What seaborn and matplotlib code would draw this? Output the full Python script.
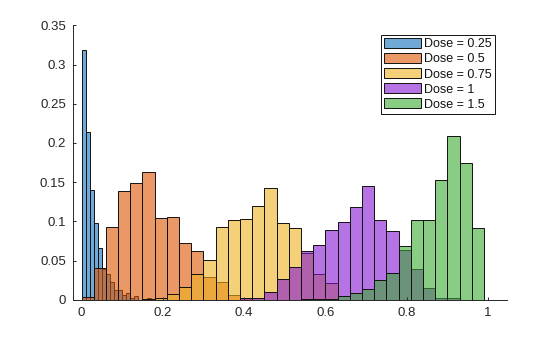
import numpy as np
import pandas as pd
import matplotlib
matplotlib.use("Agg")
import matplotlib.pyplot as plt
import seaborn as sns

# ---- data (probability per bin) ----
doses = ["Dose = 0.25", "Dose = 0.5", "Dose = 0.75", "Dose = 1", "Dose = 1.5"]

blue_start, blue_width = 0.0, 0.01
blue_vals = [0.319, 0.214, 0.140, 0.098, 0.066, 0.039, 0.0328, 0.023, 0.0128,
             0.0128, 0.006, 0.0085, 0.002, 0.005, 0.0, 0.0, 0.002]

orange_start, orange_width = 0.0, 0.03
orange_vals = [0.0034, 0.0405, 0.0925, 0.1385, 0.149, 0.163, 0.1044, 0.1057,
               0.0725, 0.0622, 0.0294, 0.0226, 0.0064, 0.002]

yellow_start, yellow_width = 0.15, 0.03
yellow_vals = [0.0015, 0.002, 0.0073, 0.0166, 0.033, 0.0507, 0.093, 0.102,
               0.103, 0.1198, 0.1428, 0.098, 0.0917, 0.060, 0.033, 0.0213]

purple_start, purple_width = 0.39, 0.03
purple_vals = [0.003, 0.003, 0.0106, 0.0264, 0.0418, 0.062, 0.070, 0.089,
               0.0993, 0.1185, 0.1453, 0.1019, 0.0878, 0.0635, 0.0392, 0.0149,
               0.002, 0.002]

green_start, green_width = 0.54, 0.03
green_vals = [0.001, 0.001, 0.001, 0.0047, 0.0085, 0.0136, 0.0251, 0.0341,
              0.0686, 0.1019, 0.1019, 0.153, 0.2084, 0.1748, 0.0916]

x_ticks = [0, 0.2, 0.4, 0.6, 0.8, 1]
x_tick_labels = ["0", "0.2", "0.4", "0.6", "0.8", "1"]
y_ticks = [0, 0.05, 0.1, 0.15, 0.2, 0.25, 0.3, 0.35]
y_tick_labels = ["0", "0.05", "0.1", "0.15", "0.2", "0.25", "0.3", "0.35"]

colors = ["#1171BE", "#DD5400", "#EDB120", "#8516D1", "#3BAA32"]

series = [
    (blue_start, blue_width, blue_vals),
    (orange_start, orange_width, orange_vals),
    (yellow_start, yellow_width, yellow_vals),
    (purple_start, purple_width, purple_vals),
    (green_start, green_width, green_vals),
]

plt.rcParams["font.family"] = ["Liberation Sans", "DejaVu Sans"]
plt.rcParams["font.size"] = 9.5
txt = "#262626"

fig = plt.figure(figsize=(5.6, 3.37), dpi=100)
ax = fig.add_axes([0.13, 0.11, 0.775, 0.815])

for label, color, (start, width, vals) in zip(doses, colors, series):
    n = len(vals)
    edges = [round(start + width * i, 6) for i in range(n + 1)]
    centers = [(edges[i] + edges[i + 1]) / 2 for i in range(n)]
    df = pd.DataFrame({"x": centers, "w": vals})
    sns.histplot(data=df, x="x", weights="w", bins=edges, stat="count",
                 color=color, alpha=0.6, edgecolor="#111111", linewidth=0.7,
                 label=label, ax=ax)

ax.set_xlim(-0.0214, 1.046)
ax.set_ylim(0, 0.35)
ax.set_xticks(x_ticks)
ax.set_xticklabels(x_tick_labels)
ax.set_yticks(y_ticks)
ax.set_yticklabels(y_tick_labels)
ax.set_xlabel("")
ax.set_ylabel("")
for s in ["top", "right"]:
    ax.spines[s].set_visible(False)
for s in ["left", "bottom"]:
    ax.spines[s].set_color(txt)
    ax.spines[s].set_linewidth(0.7)
ax.tick_params(direction="in", length=2.5, width=0.7, colors=txt,
               labelcolor=txt, labelsize=9.5, pad=5)

leg = ax.legend(loc="upper right", bbox_to_anchor=(495 / 560, 1 - 35 / 337),
                bbox_transform=fig.transFigure, borderaxespad=0,
                fancybox=False, framealpha=1, edgecolor="#111111",
                handlelength=2.9, handleheight=0.85, handletextpad=0.3,
                labelspacing=0.22, borderpad=0.25, fontsize=9)
leg.get_frame().set_linewidth(0.7)
for t in leg.get_texts():
    t.set_color("#111111")

fig.savefig("out.png", dpi=100)
